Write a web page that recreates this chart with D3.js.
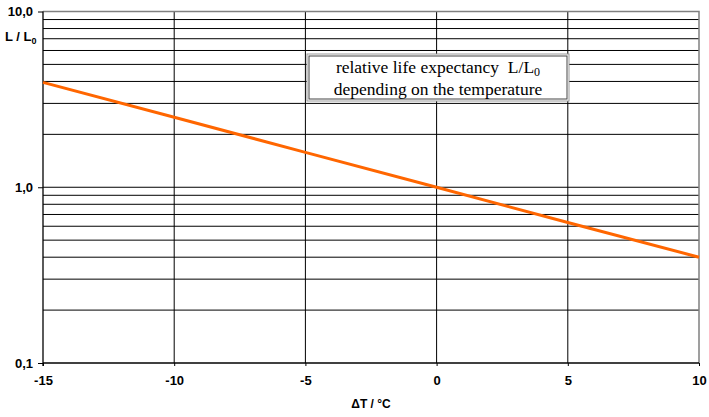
<!DOCTYPE html>
<html lang="en">
<meta charset="utf-8">

<head>
    <title>Relative life expectancy</title>
    <script src="https://d3js.org/d3.v7.min.js"></script>
    <style>
        body { margin: 0; background: #fff; }
        .axis text { font-family: Arial, "Liberation Sans", sans-serif; font-weight: bold; font-size: 13px; fill: #000; }
    </style>
</head>

<body>
    <div id="plot"></div>
    <script>
        // temperature difference (°C) and relative life L/L0
        var deltaT = [-15, -10, -5, 0, 5, 10];
        var lifeRatio = [3.95, 2.5, 1.58, 1.0, 0.63, 0.4];

        var xTicks = [-15, -10, -5, 0, 5, 10];
        var yTicks = [0.1, 1, 10];
        var yTickLabels = ["0,1", "1,0", "10,0"];
        // minor grid values (every unit inside each decade)
        var yGrid = [0.2, 0.3, 0.4, 0.5, 0.6, 0.7, 0.8, 0.9, 1, 2, 3, 4, 5, 6, 7, 8, 9];

        var margin = { top: 11.5, right: 10, bottom: 54, left: 43 },
            width = 709 - margin.left - margin.right,
            height = 417 - margin.top - margin.bottom;

        var svg = d3.select("#plot")
            .append("svg")
            .attr("width", 709)
            .attr("height", 417)
            .append("g")
            .attr("transform", "translate(" + margin.left + "," + margin.top + ")");

        var x = d3.scaleLinear().domain([-15, 10]).range([0, width]);
        var y = d3.scaleLog().domain([0.1, 10]).range([height, 0]);

        // horizontal grid
        svg.selectAll(".hgrid")
            .data(yGrid)
            .enter().append("line")
            .attr("class", "hgrid")
            .attr("x1", 0).attr("x2", width)
            .attr("y1", function (d) { return y(d); })
            .attr("y2", function (d) { return y(d); })
            .attr("stroke", "#000")
            .attr("stroke-width", 1);

        // vertical grid
        svg.selectAll(".vgrid")
            .data(xTicks.slice(1, -1))
            .enter().append("line")
            .attr("class", "vgrid")
            .attr("y1", 0).attr("y2", height)
            .attr("x1", function (d) { return x(d); })
            .attr("x2", function (d) { return x(d); })
            .attr("stroke", "#000")
            .attr("stroke-width", 1);

        // gray frame top / right
        svg.append("path")
            .attr("d", "M0,0H" + width + "V" + height)
            .attr("fill", "none")
            .attr("stroke", "#808080")
            .attr("stroke-width", 1.5);

        // axes
        var yAxis = svg.append("g")
            .attr("class", "axis")
            .call(d3.axisLeft(y).tickValues(yTicks).tickSize(5).tickPadding(5)
                .tickFormat(function (d, i) { return yTickLabels[i]; }));

        var xAxis = svg.append("g")
            .attr("class", "axis")
            .attr("transform", "translate(0," + height + ")")
            .call(d3.axisBottom(x).tickValues(xTicks).tickSize(3).tickPadding(10)
                .tickFormat(function (d) { return d; }));

        svg.selectAll(".axis .domain").attr("stroke", "#000").attr("stroke-width", 1.3);
        svg.selectAll(".axis .tick line").attr("stroke", "#000");
        xAxis.select(".domain").attr("d", "M0,0H" + width);
        yAxis.select(".domain").attr("d", "M0," + (height + 3) + "V0");

        // the curve
        var pts = deltaT.map(function (d, i) { return [d, lifeRatio[i]]; });
        svg.append("path")
            .datum(pts)
            .attr("fill", "none")
            .attr("stroke", "#FF6600")
            .attr("stroke-width", 3)
            .attr("d", d3.line()
                .x(function (d) { return x(d[0]); })
                .y(function (d) { return y(d[1]); }));

        // annotation box
        var box = svg.append("g").attr("transform", "translate(" + (307 - margin.left) + "," + (54 - margin.top) + ")");
        box.append("rect")
            .attr("width", 262).attr("height", 47)
            .attr("fill", "#fff")
            .attr("stroke", "#9a9a9a")
            .attr("stroke-width", 1);
        box.append("rect")
            .attr("x", 2).attr("y", 2)
            .attr("width", 258).attr("height", 43)
            .attr("fill", "none")
            .attr("stroke", "#444")
            .attr("stroke-width", 1);
        var t1 = box.append("text")
            .attr("x", 131).attr("y", 19)
            .attr("text-anchor", "middle")
            .style("font-family", "'Times New Roman', 'Liberation Serif', serif")
            .style("font-size", "17.5px");
        t1.append("tspan").text("relative life expectancy\u00A0\u00A0L/L");
        t1.append("tspan").attr("dy", 3).style("font-size", "12px").text("0");
        box.append("text")
            .attr("x", 131).attr("y", 41)
            .attr("text-anchor", "middle")
            .style("font-family", "'Times New Roman', 'Liberation Serif', serif")
            .style("font-size", "17.5px")
            .text("depending on the temperature");

        // axis titles
        var yTitle = d3.select("svg").append("text")
            .attr("x", 5).attr("y", 41)
            .style("font-family", "Arial, 'Liberation Sans', sans-serif")
            .style("font-weight", "bold")
            .style("font-size", "13px");
        yTitle.append("tspan").text("L / L");
        yTitle.append("tspan").attr("dy", 3).style("font-size", "9px").text("0");

        d3.select("svg").append("text")
            .attr("x", margin.left + width / 2).attr("y", 408)
            .attr("text-anchor", "middle")
            .style("font-family", "Arial, 'Liberation Sans', sans-serif")
            .style("font-weight", "bold")
            .style("font-size", "12px")
            .text("\u0394T / \u00B0C");
    </script>
</body>

</html>
